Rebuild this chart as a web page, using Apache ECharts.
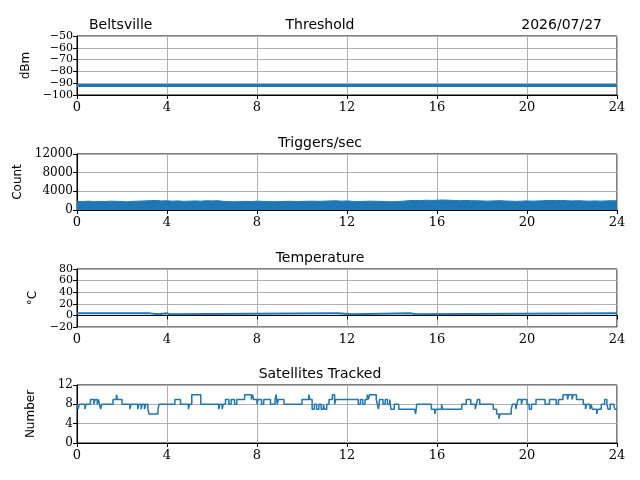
<!DOCTYPE html>
<html><head><meta charset="utf-8">
<script src="https://cdn.jsdelivr.net/npm/echarts@6/dist/echarts.min.js"></script>
<style>body{margin:0}#c{width:640px;height:480px}</style></head>
<body><div id="c"></div>
<script>
const hours = [0,4,8,12,16,20,24];
const threshold = [[0,-92],[24,-92]];
const trigTimes = [];
for (let i = 0; i <= 96; i++) trigTimes.push(i * 0.25);
const trigValues = [1850,1800,1900,1780,1850,1820,1900,1870,1800,1760,1850,1900,1950,2000,2050,1950,
 1980,1900,1950,1850,1900,1950,1900,1980,1950,2000,1850,1800,1750,1800,1850,1800,
 1900,1850,1800,1780,1820,1850,1870,1800,1850,1880,1900,1850,1900,1950,1980,1900,
 1950,1850,1800,1850,1900,1870,1850,1800,1750,1800,1900,2000,2050,2000,2100,2050,
 2100,2150,2100,2050,2000,2050,2000,1980,1950,1900,1950,2000,1950,1900,1850,1900,
 1950,1900,1950,2000,2050,2000,2050,2000,1950,2000,1950,1900,1950,1900,1950,2000,1950];
const trig = trigTimes.map((t,i)=>[t,trigValues[i]]);
const temperature = [[0,3.5],[3.25,2],[3.6,3.5],[4.0,2],[4.12,3.5],
 [11.45,2],[11.5,3.5],[11.6,2],[12.2,3.5],[14.85,2],[15.05,3.5],[24,3.5]];
const satellites = [[0,8],[0.05,7],[0.1,8],[0.35,7],[0.4,8],[0.6,9],[0.75,8],[0.8,9],[0.9,8],[0.95,9],[1.0,8],[1.05,7],[1.1,8],
 [1.6,9],[1.75,10],[1.8,9],[2.0,8],[2.35,7],[2.4,8],[2.7,7],[2.75,8],[2.85,7],[2.9,8],[3.0,7],[3.05,8],[3.15,7],[3.2,6],[3.6,7],[3.65,8],
 [4.35,9],[4.6,8],[4.95,7],[5.0,8],[5.1,10],[5.5,8],[6.3,7],[6.35,8],[6.45,7],[6.5,8],[6.6,9],[6.75,8],[6.85,9],[7.0,8],[7.1,9],
 [7.45,10],[7.75,9],[7.8,10],[7.85,9],[8.0,8],[8.05,9],[8.2,8],[8.3,9],[8.6,8],[8.8,9],[8.85,10],[8.9,8],[8.95,9],[9.2,8],
 [10.0,9],[10.3,10],[10.35,9],[10.45,7],[10.55,8],[10.65,7],[10.75,8],[10.85,7],[10.95,8],[11.0,7],[11.1,8],[11.2,9],[11.35,10],[11.45,8],[11.5,9],[11.6,9],
 [12.5,8],[12.6,9],[12.7,8],[12.8,9],[12.9,10],[12.95,9],[13.0,10],[13.3,9],[13.35,8],[13.4,7],[13.45,9],[13.6,8],[13.7,9],[13.8,8],[13.9,9],[13.95,7],[14.1,8],[14.3,7],
[15.0,7],[15.05,6],[15.1,8],[15.75,7],[15.9,6],[15.95,7],[16.2,8],[16.25,7],[17.1,8],[17.3,9],[17.5,8],[17.7,7],[17.75,8],[17.8,9],[17.9,8],[18.3,8],[18.5,7],
 [18.65,6],[18.75,5],[18.8,6],[19.3,7],[19.35,8],[19.5,7],[19.55,8],[19.6,9],[19.75,8],[19.8,9],[20.0,8],[20.1,7],[20.2,8],[20.4,9],[20.8,8],[21.0,9],[21.3,8],[21.4,9],
 [21.6,10],[21.8,9],[21.85,10],[22.0,9],[22.05,10],[22.2,9],[22.5,8],[22.6,7],[22.65,8],[22.8,7],[22.85,8],[22.9,7],[23.1,6],[23.15,7],[23.3,8],[23.45,9],[23.55,8],[23.6,7],[23.7,8],[23.85,8],[23.9,7],[24,7]];

const tops=[36,154,269,385], heights=[59,56,58,58];
const yCfg=[{min:-100,max:-50,interval:10,name:'dBm'},{min:0,max:12000,interval:4000,name:'Count'},
 {min:-20,max:80,interval:20,name:'°C'},{min:0,max:12,interval:4,name:'Number'}];
const titles=['Threshold','Triggers/sec','Temperature','Satellites Tracked'];
const fmt=v=>String(v).replace('-','\u2212');
const tickFont={fontFamily:'DejaVu Serif',fontSize:12,color:'#000'};
const grid=[],xAxis=[],yAxis=[],title=[];
for(let i=0;i<4;i++){
 grid.push({left:77,right:23,top:tops[i],height:heights[i],show:true,borderColor:'#000',borderWidth:1});
 xAxis.push({type:'value',gridIndex:i,min:hours[0],max:hours[hours.length-1],interval:4,
  axisLine:{lineStyle:{color:'#000'}},axisTick:{show:true,length:4,lineStyle:{color:'#000'}},
  axisLabel:{...tickFont,fontSize:13,margin:6,formatter:fmt},splitLine:{show:true,lineStyle:{color:'#b0b0b0'}}});
 yAxis.push({type:'value',gridIndex:i,min:yCfg[i].min,max:yCfg[i].max,interval:yCfg[i].interval,
  name:yCfg[i].name,nameLocation:'middle',nameGap:i==1?46:(i==0?45:i==2?36:40),nameRotate:90,
  nameTextStyle:{fontFamily:'DejaVu Sans',fontSize:12,color:'#000'},
  axisLine:{show:true,lineStyle:{color:'#000'}},axisTick:{show:true,length:4,lineStyle:{color:'#000'}},
  axisLabel:{...tickFont,fontSize:i==2||i==0?11:12,margin:4,formatter:fmt,showMinLabel:true,showMaxLabel:true,hideOverlap:false},
  splitLine:{show:true,lineStyle:{color:'#b0b0b0'}}});
 title.push({text:titles[i],left:'center',top:tops[i]-23,textStyle:{fontFamily:'DejaVu Sans',fontSize:14,fontWeight:'normal',color:'#000'}});
}
title.push({text:'Beltsville',left:84,top:13,textStyle:{fontFamily:'DejaVu Sans',fontSize:14,fontWeight:'normal',color:'#000'}});
title.push({text:'2026/07/27',right:33,top:13,textStyle:{fontFamily:'DejaVu Sans',fontSize:14,fontWeight:'normal',color:'#000'}});
const col='#1f77b4';
const chart=echarts.init(document.getElementById('c'));
chart.setOption({animation:false,title,grid,xAxis,yAxis,series:[
 {type:'line',xAxisIndex:0,yAxisIndex:0,data:threshold,symbol:'none',lineStyle:{color:col,width:3}},
 {type:'line',xAxisIndex:1,yAxisIndex:1,data:trig,symbol:'none',lineStyle:{color:col,width:1},areaStyle:{color:col,opacity:1}},
 {type:'line',xAxisIndex:2,yAxisIndex:2,data:temperature,step:'end',symbol:'none',lineStyle:{color:col,width:2}},
 {type:'line',xAxisIndex:3,yAxisIndex:3,data:satellites,step:'end',symbol:'none',lineStyle:{color:col,width:1.5}}
]});
</script></body></html>
